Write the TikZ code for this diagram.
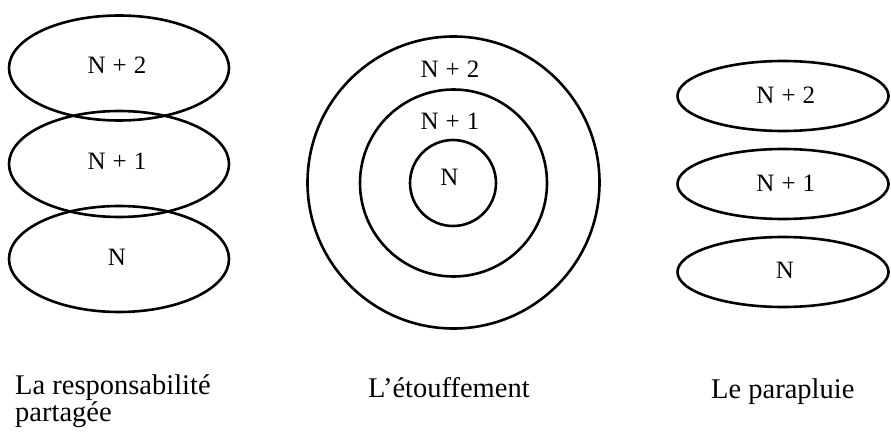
\documentclass[tikz,border=0pt]{standalone}
\usepackage{fontspec}
\setmainfont{Liberation Serif}
\usetikzlibrary{shapes.geometric}
\newcommand{\lvl}[1]{N\hspace{7pt}+\hspace{7pt}#1}
\tikzset{
  ring/.style={draw=black, line width=2.6pt, inner sep=0pt},
  lev/.style={inner sep=0pt, anchor=base, font=\fontsize{25}{27}\selectfont},
  caption/.style={inner sep=0pt, anchor=base west, align=left, font=\fontsize{28.5}{25}\selectfont}
}
\begin{document}
\begin{tikzpicture}[x=1pt,y=-1pt]
\useasboundingbox (0,0) rectangle (891,433);
% left: shared responsibility
\node[ring, ellipse, minimum width=220pt, minimum height=105pt] (l2) at (119,68) {};
\node[ring, ellipse, minimum width=220pt, minimum height=106pt] (l1) at (119,164) {};
\node[ring, ellipse, minimum width=220pt, minimum height=106pt] (l0) at (119,259) {};
\node[lev] (tl2) at (117,73.3) {\lvl{2}};
\node[lev] (tl1) at (117,169.3) {\lvl{1}};
\node[lev] (tl0) at (117,265) {N};
% center: smothering
\node[ring, circle, minimum size=292pt] (c2) at (453.5,182.5) {};
\node[ring, circle, minimum size=187pt] (c1) at (453.5,183) {};
\node[ring, circle, minimum size=86pt] (c0) at (453,183) {};
\node[lev] (tc2) at (450,77.3) {\lvl{2}};
\node[lev] (tc1) at (450,130) {\lvl{1}};
\node[lev] (tc0) at (449.5,185.7) {N};
% right: umbrella
\node[ring, ellipse, minimum width=211pt, minimum height=70pt] (r2) at (783,96) {};
\node[ring, ellipse, minimum width=211pt, minimum height=70pt] (r1) at (783,184) {};
\node[ring, ellipse, minimum width=211pt, minimum height=70pt] (r0) at (783,272) {};
\node[lev] (tr2) at (785.8,103.3) {\lvl{2}};
\node[lev] (tr1) at (785.8,191.7) {\lvl{1}};
\node[lev] (tr0) at (785,278.3) {N};
% captions
\node[caption] (cap1) at (15,421.7) {La responsabilité\\partagée};
\node[caption] (cap2) at (368,397) {L’étouffement};
\node[caption] (cap3) at (711,398) {Le parapluie};
\end{tikzpicture}
\end{document}
